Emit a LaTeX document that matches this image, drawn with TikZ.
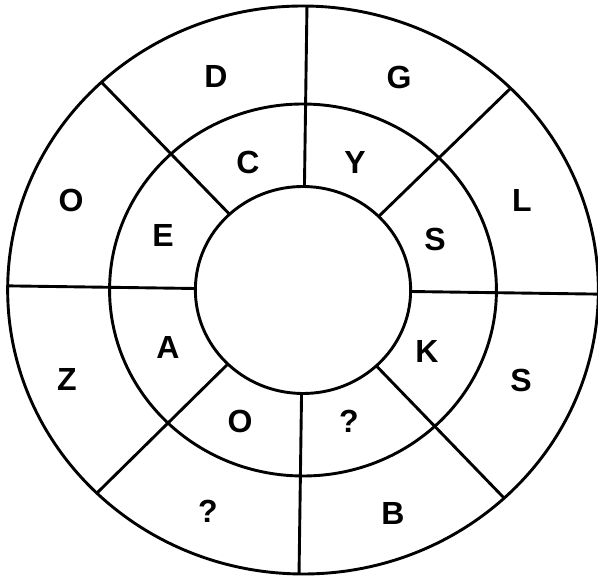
\documentclass[tikz,border=0pt]{standalone}
\usepackage{fontspec}
\setmainfont{Liberation Sans}
\begin{document}
\begin{tikzpicture}[x=1pt,y=-1pt,
  ring/.style={line width=2.9pt, black},
  spoke/.style={line width=2.9pt, black},
  letter/.style={font=\fontsize{32}{32}\selectfont\bfseries, inner sep=0pt, text=black}]
\useasboundingbox (0,0) rectangle (598,577);
\fill[white] (0,0) rectangle (598,577);
\begin{scope}[shift={(303,290)}, rotate=-0.8, xscale=1.04]
  \draw[ring] (0,0) circle (284);
  \draw[ring] (0,0) circle (186);
  \draw[ring] (0,0) circle (103.5);
  \foreach \n/\a in {r/0, br/46.3, b/90, bl/133.5, l/180, tl/226.2, t/270, tr/313.9} {
    \coordinate (i\n) at (\a:103.5);
    \coordinate (o\n) at (\a:284);
    \draw[spoke] (i\n) -- (o\n);
  }
\end{scope}
% outer ring
\node[letter] (tD) at (216,76) {D};
\node[letter] (tG) at (399,77) {G};
\node[letter] (tL) at (522,200) {L};
\node[letter] (tS2) at (521,380) {S};
\node[letter] (tB) at (393,513) {B};
\node[letter] (tQ2) at (208,511) {?};
\node[letter] (tZ) at (67,379) {Z};
\node[letter] (tO1) at (71,200) {O};
% middle ring
\node[letter] (tC) at (248,162) {C};
\node[letter] (tY) at (355,162) {Y};
\node[letter] (tS1) at (435,239) {S};
\node[letter] (tK) at (427,351) {K};
\node[letter] (tQ1) at (349,421) {?};
\node[letter] (tO2) at (240,421) {O};
\node[letter] (tA) at (168,347) {A};
\node[letter] (tE) at (163,235) {E};
\end{tikzpicture}
\end{document}
